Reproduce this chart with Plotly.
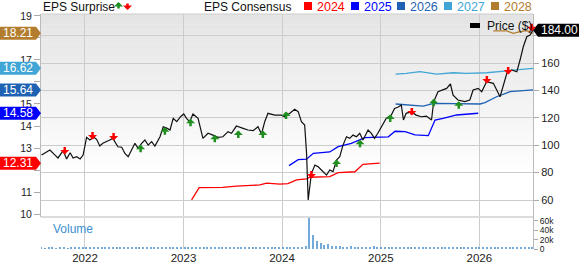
import plotly.graph_objects as go
import pandas as pd

# ---------------- data ----------------
price_dates = [
    "2021-07-24", "2021-08-24", "2021-09-12", "2021-09-23", "2021-10-12", "2021-10-25", "2021-11-07",
    "2021-11-18", "2021-12-01", "2021-12-14", "2021-12-25",
    "2022-01-07", "2022-01-19", "2022-02-03", "2022-02-13", "2022-02-25", "2022-03-08", "2022-03-22",
    "2022-04-03", "2022-04-14", "2022-04-25", "2022-05-03", "2022-05-17", "2022-05-29", "2022-06-10",
    "2022-06-23", "2022-07-05", "2022-07-17", "2022-07-30", "2022-08-11", "2022-08-23", "2022-09-05",
    "2022-09-17", "2022-10-06", "2022-10-18", "2022-11-02", "2022-11-12", "2022-11-24", "2022-12-07",
    "2022-12-21",
    "2023-01-02", "2023-01-12", "2023-01-24", "2023-02-05", "2023-02-24", "2023-03-14", "2023-04-02",
    "2023-04-20", "2023-05-09", "2023-05-27", "2023-06-15", "2023-06-28", "2023-07-16", "2023-08-10",
    "2023-08-28", "2023-09-16", "2023-10-04", "2023-10-17", "2023-10-29", "2023-11-10", "2023-12-05",
    "2023-12-30",
    "2024-01-11", "2024-01-30", "2024-02-17", "2024-03-01", "2024-03-13", "2024-03-25", "2024-04-01",
    "2024-04-07", "2024-04-19", "2024-05-02", "2024-05-14", "2024-05-26", "2024-06-08", "2024-06-14",
    "2024-06-26", "2024-07-08", "2024-07-21", "2024-08-02", "2024-08-14", "2024-08-27", "2024-09-08",
    "2024-09-20", "2024-10-03", "2024-10-15", "2024-10-27", "2024-11-15", "2024-11-27", "2024-12-09",
    "2024-12-21",
    "2025-01-03", "2025-01-21", "2025-02-09", "2025-02-21", "2025-03-05", "2025-03-18", "2025-03-26",
    "2025-04-05", "2025-04-24", "2025-05-12", "2025-05-31", "2025-06-19", "2025-07-08", "2025-07-16",
    "2025-08-01", "2025-08-20", "2025-09-02", "2025-09-16", "2025-09-26", "2025-10-14", "2025-11-08",
    "2025-11-27", "2025-12-09", "2025-12-28",
    "2026-01-10", "2026-01-28", "2026-02-22", "2026-03-19", "2026-04-13", "2026-05-01", "2026-05-20",
    "2026-06-01", "2026-06-13", "2026-06-26", "2026-07-08", "2026-07-19",
]
price_values = [
    92.8, 96.5, 92.8, 90.7, 96.0, 90.0, 94.5, 90.7, 91.6, 90.0, 92.8,
    105.8, 103.8, 105.8, 104.3, 99.4, 101.4, 103.0, 103.8, 105.0, 101.4, 98.9, 98.5, 94.0, 91.6,
    96.5, 101.4, 97.7, 101.4, 103.8, 100.1, 102.6, 99.4, 106.2, 113.5, 112.3, 111.1, 119.6, 117.2, 120.8,
    122.8, 119.6, 117.2, 122.8, 119.6, 105.0, 108.7, 107.4, 105.8, 106.2, 109.9, 108.7, 114.0, 112.3,
    111.1, 110.6, 113.5, 108.2, 117.2, 123.3, 122.0, 122.0,
    120.8, 123.3, 126.2, 124.5, 117.2, 114.7, 94.0, 60.0, 79.5, 85.5, 84.3, 81.9, 79.5, 78.2,
    81.9, 80.7, 89.2, 91.6, 100.1, 106.2, 105.0, 107.4, 106.2, 108.7, 103.8, 111.1, 108.7, 105.0, 108.7,
    113.5, 119.6, 122.0, 126.9, 127.7, 129.3, 118.4, 123.3, 124.5, 122.0, 120.8, 121.3, 118.4, 131.8,
    139.1, 140.3, 141.5, 144.7, 136.6, 133.0, 131.8, 133.0, 140.3, 141.5,
    139.1, 146.4, 145.2, 135.4, 152.5, 154.9, 153.6, 162.2, 171.9, 179.2, 180.4, 184.0,
]

eps_2024_dates = ["2023-01-31", "2023-02-28", "2023-05-27", "2023-07-16", "2023-10-11", "2023-11-05",
                  "2023-12-24", "2024-01-23", "2024-02-24", "2024-04-01", "2024-04-13", "2024-06-26",
                  "2024-07-27", "2024-09-27", "2024-10-27", "2024-12-28"]
eps_2024 = [10.64, 11.20, 11.21, 11.27, 11.32, 11.40, 11.36, 11.38, 11.55, 11.60, 11.67, 11.70,
            11.88, 11.92, 12.26, 12.31]

eps_2025_dates = ["2024-01-27", "2024-03-01", "2024-04-01", "2024-04-26", "2024-06-26", "2024-07-27",
                  "2024-09-14", "2024-11-03", "2025-01-29", "2025-02-23", "2025-04-01", "2025-05-08",
                  "2025-06-26", "2025-07-21", "2025-08-20", "2025-10-09", "2025-12-28"]
eps_2025 = [12.20, 12.47, 12.49, 12.76, 12.82, 13.06, 13.21, 13.47, 13.51, 13.76, 13.74, 13.60,
            13.56, 14.27, 14.35, 14.50, 14.58]

eps_2026_dates = ["2025-02-25", "2025-05-02", "2025-06-07", "2025-07-17", "2025-09-27", "2026-01-04",
                  "2026-01-22", "2026-03-06", "2026-04-25", "2026-07-19"]
eps_2026 = [15.00, 14.95, 14.90, 15.03, 15.03, 15.00, 15.06, 15.33, 15.56, 15.64]

eps_2027_dates = ["2025-02-25", "2025-04-06", "2025-05-26", "2025-07-27", "2025-09-27", "2025-11-15",
                  "2026-01-28", "2026-05-07", "2026-07-19"]
eps_2027 = [16.36, 16.39, 16.47, 16.36, 16.42, 16.39, 16.42, 16.55, 16.62]

eps_2028_dates = ["2026-02-22", "2026-04-13", "2026-05-07", "2026-06-01", "2026-06-26", "2026-07-19"]
eps_2028 = [18.32, 18.32, 18.21, 18.29, 18.33, 18.21]

surprise_up_dates = ["2022-07-26", "2022-10-24", "2023-01-27", "2023-04-27", "2023-07-23", "2023-10-22",
                     "2024-01-16", "2024-07-21", "2024-10-16", "2025-02-05", "2025-07-16", "2025-10-17"]
surprise_up_values = [97.0, 109.9, 116.0, 104.3, 107.4, 107.4, 121.3, 86.3, 100.7, 119.1, 130.6, 128.9]
surprise_down_dates = ["2021-10-18", "2022-01-29", "2022-04-17", "2024-04-19", "2025-04-26",
                       "2026-01-29", "2026-04-18", "2026-07-14"]
surprise_down_values = [96.5, 107.4, 106.7, 79.0, 125.0, 148.3, 154.9, 186.5]

volume_start = "2021-07-23"   # bi-weekly volume, thousands of shares
volume_k = [
    3, 2, 3, 3, 2, 3, 3, 2, 3, 4, 3, 3,
    5, 4, 3, 4, 3, 4, 5, 4, 3, 4, 4, 5, 4, 3, 3, 4, 3, 4, 5, 4, 3, 3, 4, 4, 3, 4,
    4, 5, 3, 3, 4, 5, 3, 4, 3, 3, 4, 3, 3, 3, 4, 3, 3, 4, 3, 3, 3, 4, 3, 3, 4, 4,
    3, 3, 4, 3, 4, 5, 7, 67, 29, 16, 12, 8, 10, 7, 6, 6, 5, 5, 6, 5, 4, 4, 3, 5, 6, 4,
    3, 4, 3, 4, 3, 4, 4, 3, 3, 4, 5, 4, 3, 3, 4, 3, 3, 4, 3, 4, 3, 3, 4, 3, 4, 3,
    3, 4, 3, 3, 4, 3, 3, 4, 3, 3, 4, 3, 4, 5, 4,
]

year_ticks = ["2022-01-01", "2023-01-01", "2024-01-01", "2025-01-01", "2026-01-01"]
year_labels = ["2022", "2023", "2024", "2025", "2026"]
eps_ticks = [10, 11, 12, 13, 14, 15, 16, 17, 18, 19]
eps_tick_labels = ["10", "11", "", "13", "14", "15", "", "17", "", "19"]   # 12/16/18 sit under flags
price_ticks = [60, 80, 100, 120, 140, 160, 180]
price_tick_labels = ["60", "80", "100", "120", "140", "160", ""]          # 180 sits under price flag
volume_ticks = [0, 20, 40, 60]
volume_tick_labels = ["0", "20k", "40k", "60k"]
last_price = 184.00

series_names = ["2024", "2025", "2026", "2027", "2028"]
series_colors = ["#ff0000", "#0000ff", "#1f62b3", "#41a6d6", "#b27d2e"]

# ---------------- geometry ----------------
W, H = 579, 264
PL, PR, PT, PB = 41, 533, 14, 249     # plot area in pixels
MAIN_B = 217                           # bottom of price panel
X_RANGE = ["2021-07-22", "2026-07-19"]
EPS_RANGE = [9.864, 19.09]
PRICE_RANGE = [47.6, 195.8]
VOL_RANGE = [0, 68]
FONT = "Liberation Sans, Arial, sans-serif"
GRID = "#cccccc"
GREEN = "#1f8f1f"
RED = "#ff0000"
FLAG_HALF = 6.5


def pxx(px):
    return (px - PL) / (PR - PL)


def pxy(py):
    return (PB - py) / (PB - PT)


def eps_py(v):
    return PT + (EPS_RANGE[1] - v) / (EPS_RANGE[1] - EPS_RANGE[0]) * (MAIN_B - PT)


def py_eps(py):
    return EPS_RANGE[1] - (py - PT) / (MAIN_B - PT) * (EPS_RANGE[1] - EPS_RANGE[0])


def price_py(v):
    return PT + (PRICE_RANGE[1] - v) / (PRICE_RANGE[1] - PRICE_RANGE[0]) * (MAIN_B - PT)


main_lo = pxy(MAIN_B)

fig = go.Figure()

vol_dates = pd.date_range(volume_start, periods=len(volume_k), freq="14D")
fig.add_trace(go.Bar(x=vol_dates, y=volume_k, xaxis="x", yaxis="y3",
                     marker=dict(color="#5b9bd5", line=dict(width=0)),
                     width=5 * 86400000, opacity=0.85, hoverinfo="skip"))

eps_sets = [(eps_2024_dates, eps_2024), (eps_2025_dates, eps_2025), (eps_2026_dates, eps_2026),
            (eps_2027_dates, eps_2027), (eps_2028_dates, eps_2028)]
for (d, v), c in zip(eps_sets, series_colors):
    fig.add_trace(go.Scatter(x=d, y=v, xaxis="x2", yaxis="y", mode="lines",
                             line=dict(color=c, width=1.3), hoverinfo="skip"))

fig.add_trace(go.Scatter(x=price_dates, y=price_values, xaxis="x2", yaxis="y2", mode="lines",
                         line=dict(color="#111111", width=1.2), hoverinfo="skip"))

shapes = []
annotations = []

# background gradient of the price panel (drawn inside the subplot, under the grid)
n_bands = 40
for i in range(n_bands):
    y0 = PT + (MAIN_B - PT) * i / n_bands
    y1 = PT + (MAIN_B - PT) * (i + 1) / n_bands
    t = min(1.0, (i + 0.5) / (n_bands * 0.8))
    g = int(round(228 + (255 - 228) * t))
    shapes.append(dict(type="rect", xref="x2", yref="y", x0=X_RANGE[0], x1=X_RANGE[1],
                       y0=py_eps(y1 + 0.3), y1=py_eps(y0), line=dict(width=0),
                       fillcolor=f"rgb({g},{g},{g})", layer="below"))
# separator between panels and top border
shapes.append(dict(type="line", xref="paper", yref="paper", x0=0, x1=1, y0=main_lo, y1=main_lo,
                   line=dict(color="#dcdcdc", width=2), layer="above"))
shapes.append(dict(type="line", xref="paper", yref="paper", x0=0, x1=1, y0=1, y1=1,
                   line=dict(color="#cccccc", width=1), layer="above"))

# surprise arrows
for d, v in zip(surprise_up_dates, surprise_up_values):
    annotations.append(dict(x=d, y=v, xref="x2", yref="y2", text="", showarrow=True,
                            arrowhead=1, arrowsize=0.6, arrowwidth=2.5, arrowcolor=GREEN,
                            ax=0, ay=9, yshift=4.5, standoff=0, startstandoff=0))
for d, v in zip(surprise_down_dates, surprise_down_values):
    annotations.append(dict(x=d, y=v, xref="x2", yref="y2", text="", showarrow=True,
                            arrowhead=1, arrowsize=0.6, arrowwidth=2.5, arrowcolor=RED,
                            ax=0, ay=-9, yshift=-4.5, standoff=0, startstandoff=0))

# left flags with the latest consensus values
last_vals = [eps_2024[-1], eps_2025[-1], eps_2026[-1], eps_2027[-1], eps_2028[-1]]
for v, c in zip(last_vals, series_colors):
    yc = eps_py(v)
    x0, x1, x2 = pxx(0), pxx(36), pxx(41)
    ya, yb, ym = pxy(yc - FLAG_HALF), pxy(yc + FLAG_HALF), pxy(yc)
    shapes.append(dict(type="path", xref="paper", yref="paper",
                       path=f"M{x0},{ya} L{x1},{ya} L{x2},{ym} L{x1},{yb} L{x0},{yb} Z",
                       fillcolor=c, line=dict(width=0), layer="above"))
    annotations.append(dict(x=pxx(18), y=ym, xref="paper", yref="paper", text=f"{v:.2f}",
                            showarrow=False, xanchor="center", yanchor="middle",
                            font=dict(family=FONT, size=12, color="white")))

# price flag
yc = price_py(last_price)
xa, xb, xc = pxx(533), pxx(538), pxx(579)
ya, yb, ym = pxy(yc - FLAG_HALF), pxy(yc + FLAG_HALF), pxy(yc)
shapes.append(dict(type="path", xref="paper", yref="paper",
                   path=f"M{xa},{ym} L{xb},{ya} L{xc},{ya} L{xc},{yb} L{xb},{yb} Z",
                   fillcolor="#000000", line=dict(width=0), layer="above"))
annotations.append(dict(x=pxx(559), y=ym, xref="paper", yref="paper", text=f"{last_price:.2f}",
                        showarrow=False, xanchor="center", yanchor="middle",
                        font=dict(family=FONT, size=12, color="white")))

# price legend inside the plot
shapes.append(dict(type="rect", xref="paper", yref="paper", x0=pxx(470), x1=pxx(480),
                   y0=pxy(28), y1=pxy(23), fillcolor="#000000", line=dict(width=0), layer="above"))
annotations.append(dict(x=pxx(485), y=pxy(26), xref="paper", yref="paper", text="Price ($)",
                        showarrow=False, xanchor="left", yanchor="middle",
                        font=dict(family=FONT, size=12, color="#111111")))

# header legend
annotations.append(dict(x=pxx(41), y=pxy(6.5), xref="paper", yref="paper", text="EPS Surprise",
                        showarrow=False, xanchor="left", yanchor="middle",
                        font=dict(family=FONT, size=12, color="#111111")))
annotations.append(dict(x=pxx(118.5), y=pxy(2), xref="paper", yref="paper", text="", showarrow=True,
                        arrowhead=1, arrowsize=0.6, arrowwidth=2.5, arrowcolor=GREEN,
                        ax=0, ay=8, standoff=0, startstandoff=0))
annotations.append(dict(x=pxx(127.5), y=pxy(10), xref="paper", yref="paper", text="", showarrow=True,
                        arrowhead=1, arrowsize=0.6, arrowwidth=2.5, arrowcolor=RED,
                        ax=0, ay=-8, standoff=0, startstandoff=0))
annotations.append(dict(x=pxx(202), y=pxy(6.5), xref="paper", yref="paper", text="EPS Consensus",
                        showarrow=False, xanchor="left", yanchor="middle",
                        font=dict(family=FONT, size=12, color="#111111")))
legend_x = [304, 351, 397, 444, 491]
for name, c, lx in zip(series_names, series_colors, legend_x):
    shapes.append(dict(type="rect", xref="paper", yref="paper", x0=pxx(lx), x1=pxx(lx + 8),
                       y0=pxy(10), y1=pxy(2), fillcolor=c, line=dict(width=0), layer="above"))
    annotations.append(dict(x=pxx(lx + 11), y=pxy(6.5), xref="paper", yref="paper", text=name,
                            showarrow=False, xanchor="left", yanchor="middle",
                            font=dict(family=FONT, size=12.5, color=c)))

# volume label
annotations.append(dict(x=pxx(51), y=pxy(229), xref="paper", yref="paper", text="Volume",
                        showarrow=False, xanchor="left", yanchor="middle",
                        font=dict(family=FONT, size=12, color="#3d8fd1")))

tickfont = dict(family=FONT, size=11, color="#222222")
fig.update_layout(
    width=W, height=H, autosize=False,
    margin=dict(l=PL, r=W - PR, t=PT, b=H - PB, pad=0, autoexpand=False),
    paper_bgcolor="white", plot_bgcolor="rgba(0,0,0,0)",
    showlegend=False, bargap=0,
    xaxis=dict(domain=[0, 1], anchor="y3", type="date", range=X_RANGE,
               tickvals=year_ticks, ticktext=year_labels, ticks="",
               showgrid=True, gridcolor=GRID, gridwidth=1, zeroline=False, showline=False,
               automargin=False, tickfont=dict(family=FONT, size=11.5, color="#222222")),
    xaxis2=dict(domain=[0, 1], anchor="y", type="date", range=X_RANGE, matches="x",
                tickvals=year_ticks, showticklabels=False, ticks="", automargin=False,
                showgrid=True, gridcolor=GRID, gridwidth=1, zeroline=False, showline=False),
    yaxis=dict(domain=[main_lo, 1], anchor="x2", range=EPS_RANGE, tickvals=eps_ticks,
               ticktext=eps_tick_labels, automargin=False,
               ticks="outside", ticklen=6, tickcolor="#aaaaaa", showgrid=False, zeroline=False,
               showline=True, linecolor="#bbbbbb", tickfont=dict(family=FONT, size=10.5, color="#222222")),
    yaxis2=dict(overlaying="y", anchor="x2", side="right", range=PRICE_RANGE, tickvals=price_ticks,
                ticktext=price_tick_labels, automargin=False,
                ticks="outside", ticklen=5, tickcolor="#aaaaaa", showgrid=True, gridcolor=GRID,
                zeroline=False, showline=True, linecolor="#bbbbbb", tickfont=tickfont),
    yaxis3=dict(domain=[0, main_lo], anchor="x", side="right", range=VOL_RANGE,
                tickvals=volume_ticks, ticktext=volume_tick_labels, automargin=False,
                ticks="outside", ticklen=4, tickcolor="#aaaaaa", showgrid=False, zeroline=False,
                showline=True, linecolor="#bbbbbb",
                tickfont=dict(family=FONT, size=8.5, color="#222222")),
    shapes=shapes, annotations=annotations,
)

fig.write_html("out.html")
